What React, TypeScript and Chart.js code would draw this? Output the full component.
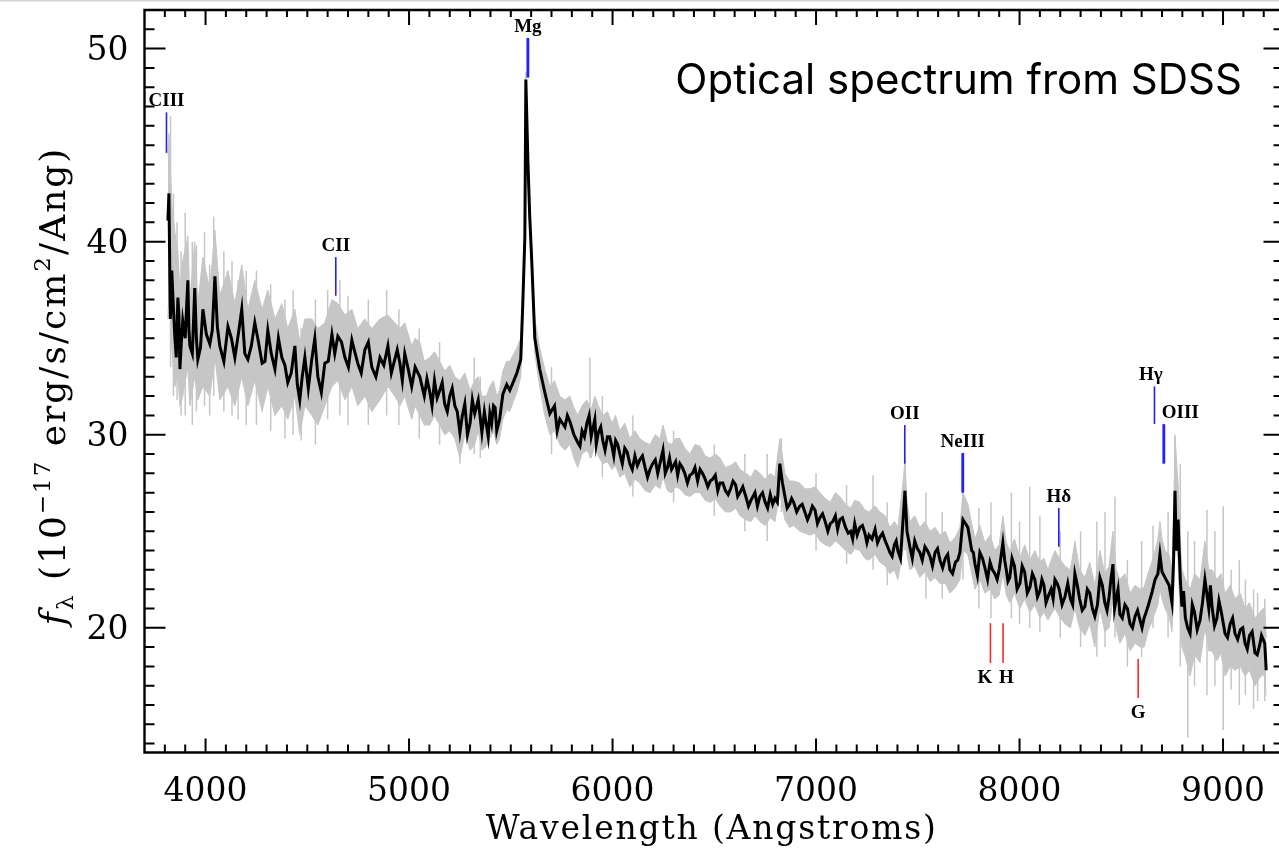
import React, { useEffect, useRef } from 'react';
import { Chart, registerables } from 'chart.js';

Chart.register(...registerables);

// ---------- Data ----------
// Main samples of the spectrum (wavelength in Angstroms) with the gray envelope
const wavelength = [
  3815, 3820, 3834, 3849, 3864, 3874, 3888, 3913, 3923, 3947, 3962, 3987, 4021, 4046, 4070, 4110,
  4144, 4178, 4208, 4242, 4278, 4306, 4341, 4375, 4404, 4439, 4463, 4488, 4522, 4552, 4586, 4621,
  4650, 4685, 4719, 4748, 4783, 4817, 4857, 4896, 4930, 4955, 4979, 5013, 5030, 5053, 5075, 5102,
  5125, 5151, 5175, 5200, 5225, 5250, 5274, 5300, 5323, 5340, 5358, 5380, 5397, 5415, 5431, 5445,
  5461, 5480, 5495, 5515, 5530, 5549, 5559, 5569, 5574, 5584, 5593, 5603, 5618, 5642, 5667, 5692,
  5715, 5741, 5766, 5790, 5810, 5829, 5850, 5874, 5895, 5913, 5930, 5952, 5975, 5997, 6015, 6036,
  6060, 6085, 6110, 6134, 6160, 6184, 6210, 6233, 6248, 6270, 6290, 6310, 6331, 6355, 6380, 6405,
  6430, 6455, 6480, 6505, 6528, 6555, 6580, 6605, 6626, 6655, 6680, 6700, 6724, 6750, 6775, 6798,
  6822, 6847, 6870, 6890, 6920, 6945, 6970, 6995, 7019, 7045, 7070, 7095, 7117, 7145, 7170, 7190,
  7215, 7240, 7260, 7290, 7314, 7340, 7363, 7385, 7402, 7427, 7437, 7447, 7461, 7485, 7510, 7535,
  7560, 7585, 7609, 7635, 7658, 7685, 7707, 7722, 7746, 7765, 7781, 7805, 7830, 7855, 7879, 7900,
  7918, 7935, 7952, 7975, 8002, 8025, 8051, 8075, 8100, 8120, 8140, 8155, 8174, 8195, 8223, 8250,
  8272, 8295, 8321, 8345, 8370, 8395, 8419, 8440, 8459, 8475, 8493, 8518, 8543, 8568, 8592, 8612,
  8631, 8650, 8666, 8680, 8690, 8700, 8715, 8735, 8749, 8757, 8764, 8779, 8790, 8798, 8815, 8838,
  8860, 8887, 8911, 8930, 8946, 8970, 8990, 9010, 9035, 9059, 9085, 9108, 9130, 9157, 9180, 9197,
  9205, 9212,
];

const flux = [
  41.1, 42.5, 38.5, 35.1, 37.1, 33.4, 35.9, 38.0, 34.6, 37.6, 33.9, 36.5, 34.7, 38.2, 34.6, 35.6,
  34.0, 36.5, 33.9, 35.8, 33.7, 35.4, 33.4, 34.0, 32.7, 34.6, 31.8, 34.0, 33.9, 33.0, 33.7, 35.2,
  35.1, 34.0, 34.9, 33.7, 34.4, 33.5, 34.0, 34.6, 33.9, 33.7, 34.2, 32.5, 33.5, 33.0, 32.0, 32.2,
  32.8, 32.3, 31.6, 32.0, 31.5, 30.1, 31.6, 30.6, 31.1, 31.8, 30.1, 30.5, 31.1, 31.5, 30.2, 30.8,
  32.1, 32.6, 32.3, 32.8, 33.2, 33.9, 36.8, 40.2, 48.4, 44.2, 41.3, 39.0, 35.0, 33.4, 32.2, 31.1,
  31.5, 30.8, 30.4, 30.7, 30.0, 29.6, 30.2, 30.6, 29.9, 30.8, 30.1, 29.7, 29.9, 29.4, 29.7, 29.0,
  29.3, 28.5, 28.9, 28.7, 28.3, 28.2, 28.7, 28.5, 29.2, 28.3, 28.2, 28.6, 28.5, 28.0, 27.9, 28.3,
  28.2, 27.7, 27.6, 27.9, 27.5, 27.1, 27.2, 27.4, 27.0, 26.8, 26.6, 27.0, 26.8, 26.5, 26.9, 26.7,
  28.5, 26.8, 26.4, 26.5, 26.3, 26.0, 25.9, 26.1, 25.7, 25.5, 25.4, 25.8, 25.6, 25.2, 25.0, 25.4,
  25.2, 24.9, 24.8, 25.1, 24.7, 24.5, 23.9, 24.3, 24.0, 25.5, 27.1, 25.0, 24.2, 24.5, 23.9, 24.2,
  23.7, 23.9, 23.5, 23.6, 23.0, 23.4, 23.9, 25.6, 25.2, 24.0, 23.3, 23.9, 23.1, 23.4, 22.8, 23.0,
  24.4, 23.0, 22.6, 23.2, 22.3, 22.9, 22.1, 22.5, 21.9, 22.2, 21.6, 22.0, 22.5, 22.0, 21.6, 21.5,
  22.8, 21.5, 21.1, 21.8, 20.6, 22.6, 21.3, 21.6, 23.3, 21.5, 20.7, 21.2, 20.2, 20.6, 20.4, 20.5,
  21.1, 21.8, 22.5, 22.8, 23.8, 22.9, 22.6, 22.2, 21.3, 23.5, 27.1, 25.6, 22.5, 21.1, 20.5, 19.7,
  20.8, 20.4, 22.5, 21.0, 21.1, 20.5, 20.9, 19.7, 20.2, 19.7, 19.9, 19.2, 19.6, 18.7, 19.1, 19.4,
  19.2, 17.8,
];

const fluxLow = [
  36.0, 37.5, 34.5, 32.5, 33.0, 31.5, 32.0, 33.5, 31.5, 33.0, 31.8, 32.5, 32.0, 34.0, 31.8, 32.5,
  31.5, 33.0, 31.5, 32.8, 31.2, 32.5, 31.0, 31.5, 30.8, 32.0, 30.0, 31.5, 31.0, 30.5, 31.5, 32.5,
  32.8, 31.8, 32.5, 31.5, 32.0, 31.2, 31.8, 32.5, 32.0, 31.5, 32.0, 30.8, 31.5, 31.0, 30.5, 30.5,
  31.0, 30.5, 30.0, 30.2, 29.8, 28.8, 30.0, 29.2, 29.5, 30.2, 29.2, 29.4, 29.8, 30.2, 29.5, 29.8,
  30.8, 31.3, 31.2, 31.8, 32.2, 33.0, 36.0, 39.5, 47.0, 43.5, 40.6, 38.3, 34.2, 32.5, 31.0, 30.0,
  30.2, 29.5, 29.2, 29.5, 28.8, 28.3, 29.0, 29.2, 28.8, 29.5, 28.9, 28.5, 28.6, 28.2, 28.4, 27.8,
  28.0, 27.3, 27.7, 27.5, 27.1, 27.0, 27.4, 27.2, 27.8, 27.1, 27.0, 27.3, 27.2, 26.9, 26.8, 27.0,
  27.0, 26.6, 26.5, 26.7, 26.3, 26.0, 26.0, 26.2, 25.8, 25.6, 25.5, 25.8, 25.5, 25.3, 25.7, 25.5,
  27.0, 25.6, 25.2, 25.3, 25.0, 24.9, 24.8, 24.9, 24.5, 24.3, 24.2, 24.5, 24.3, 24.0, 23.8, 24.1,
  24.0, 23.6, 23.5, 23.8, 23.4, 23.2, 22.8, 23.0, 22.5, 24.0, 25.5, 23.8, 23.0, 23.2, 22.6, 22.9,
  22.4, 22.6, 22.3, 22.3, 21.8, 22.1, 22.5, 24.0, 23.8, 22.8, 22.0, 22.5, 21.8, 22.0, 21.5, 21.7,
  22.8, 21.7, 21.3, 21.8, 21.0, 21.5, 20.8, 21.2, 20.5, 20.8, 20.4, 20.7, 21.0, 20.6, 20.2, 20.0,
  21.0, 20.0, 19.6, 20.2, 19.0, 21.0, 19.8, 20.0, 21.5, 20.0, 19.2, 19.7, 18.8, 19.2, 19.0, 19.0,
  19.8, 20.3, 20.8, 21.2, 22.0, 21.5, 21.0, 20.6, 19.8, 21.5, 25.0, 23.5, 20.5, 19.0, 18.5, 17.5,
  18.6, 18.2, 20.0, 18.8, 18.8, 18.3, 18.7, 17.5, 18.0, 17.8, 18.0, 17.5, 17.8, 17.0, 17.4, 17.6,
  17.4, 16.5,
];

const fluxHigh = [
  44.5, 45.6, 42.0, 40.5, 39.5, 37.5, 39.0, 40.3, 37.0, 40.0, 36.8, 39.2, 37.5, 40.6, 37.2, 38.5,
  36.8, 38.8, 36.5, 38.0, 36.5, 37.5, 36.0, 36.8, 35.5, 36.5, 34.8, 36.0, 36.0, 35.5, 35.8, 37.0,
  36.8, 36.2, 36.5, 35.5, 36.0, 35.5, 36.0, 36.2, 35.8, 35.5, 35.8, 34.6, 35.0, 34.8, 33.8, 34.0,
  34.3, 33.8, 33.3, 33.6, 33.0, 32.8, 33.2, 32.3, 32.8, 33.0, 32.0, 32.0, 32.5, 32.8, 32.0, 32.3,
  33.3, 33.8, 33.8, 34.2, 34.5, 35.0, 37.8, 41.0, 48.8, 45.0, 42.0, 39.7, 36.0, 34.5, 33.4, 32.5,
  32.8, 32.0, 31.8, 32.0, 31.4, 31.0, 31.5, 31.8, 31.3, 32.0, 31.5, 31.0, 31.2, 30.6, 31.0, 30.2,
  30.6, 29.8, 30.2, 29.8, 29.6, 29.5, 30.0, 29.8, 30.5, 29.6, 29.5, 29.8, 29.8, 29.3, 29.0, 29.5,
  29.4, 28.9, 28.8, 29.0, 28.8, 28.3, 28.4, 28.6, 28.2, 28.0, 27.8, 28.2, 28.0, 27.7, 28.0, 27.8,
  29.8, 28.0, 27.6, 27.6, 27.5, 27.2, 27.2, 27.3, 27.0, 26.7, 26.5, 27.0, 26.8, 26.4, 26.2, 26.6,
  26.5, 26.1, 26.0, 26.3, 26.0, 25.8, 25.2, 25.5, 25.2, 27.5, 28.6, 26.5, 25.5, 25.8, 25.2, 25.5,
  25.0, 25.2, 24.8, 25.0, 24.4, 24.7, 25.2, 27.0, 26.4, 25.4, 24.6, 25.3, 24.4, 24.8, 24.0, 24.3,
  25.8, 24.4, 24.0, 24.6, 23.6, 24.3, 23.5, 24.0, 23.4, 23.6, 23.0, 23.5, 24.0, 23.6, 23.2, 23.0,
  24.5, 23.0, 22.6, 23.4, 22.2, 24.0, 22.8, 23.2, 25.0, 23.0, 22.5, 22.8, 21.8, 22.2, 22.0, 22.1,
  22.8, 23.4, 24.0, 24.6, 25.5, 24.6, 24.0, 23.8, 23.0, 25.5, 29.9, 27.5, 24.5, 23.0, 22.5, 22.0,
  22.8, 22.5, 24.5, 23.0, 23.0, 22.5, 22.8, 21.8, 22.2, 21.5, 21.8, 21.0, 21.3, 20.5, 20.8, 21.0,
  21.0, 19.5,
];

// Extra wiggles of the smoothed (black) spectrum between the main samples
const detailWave = [
  3827, 3841, 3856, 3869, 3881, 3900, 3918, 3935, 3955, 3975, 4004, 4033, 4058, 4090, 4127, 4161,
  4193, 4225, 4260, 4292, 4323, 4358, 4390, 4421, 4451, 4475, 4505, 4537, 4569, 4603, 4635, 4668,
  4702, 4733, 4765, 4800, 4837, 4876, 4913, 4942, 4967, 4996, 5088, 5113, 5138, 5163, 5188, 5212,
  5237, 5262, 5287, 5311, 5370, 5389, 5406, 5423,
  5728, 5778, 5840, 5862, 5885, 5920, 5942, 5963, 5986, 6006, 6025, 6048, 6072, 6097, 6122, 6147,
  6172, 6197, 6222, 6259, 6280, 6320, 6343, 6368, 6393, 6418, 6442, 6468, 6492, 6517, 6542, 6568,
  6592, 6615, 6640, 6668, 6690, 6712, 6737, 6762, 6787, 6810, 6835, 6858, 6880, 6905, 6932, 6958,
  6982, 7007, 7032, 7058, 7082, 7106, 7130, 7158, 7180, 7202, 7228, 7250, 7275, 7302, 7327, 7352,
  7374, 7394, 7415,
  7473, 7498, 7522, 7547, 7572, 7597, 7622, 7647, 7671, 7696, 7773, 7793, 7818, 7843, 7867, 7890,
  7927, 7943, 7963, 7988, 8013, 8038, 8063, 8088, 8110, 8130, 8165, 8185, 8209, 8237, 8261, 8284,
  8308, 8333, 8358, 8383, 8407, 8430, 8449, 8467, 8484, 8505, 8530, 8555, 8580, 8602, 8622, 8770,
  8806, 8826, 8849, 8873, 8899, 8920, 8938, 8958, 8980, 9000, 9022, 9047, 9072, 9097, 9119, 9143,
  9168, 9189,
];
const detailFlux = [
  36.0, 36.8, 34.0, 36.2, 34.8, 35.0, 35.5, 34.2, 35.0, 34.5, 35.2, 35.4, 35.6, 33.8, 35.0, 35.2,
  34.2, 34.6, 34.8, 33.8, 34.2, 35.0, 33.6, 33.2, 32.6, 33.0, 32.4, 35.0, 32.2, 33.8, 34.2, 34.8,
  33.5, 34.3, 33.2, 34.8, 33.0, 33.6, 33.2, 34.4, 32.8, 33.4, 32.9, 31.5, 31.9, 32.7, 31.2, 32.4,
  31.2, 31.0, 30.0, 31.8, 31.2, 29.9, 30.6, 31.4,
  30.2, 31.0, 29.4, 29.9, 31.0, 29.5, 30.4, 29.2, 29.9, 28.9, 29.5, 28.5, 29.1, 28.2, 28.4, 28.9,
  27.8, 28.5, 28.0, 28.0, 28.8, 27.9, 28.3, 27.5, 28.0, 27.6, 28.0, 27.3, 27.7, 27.1, 27.5, 26.9,
  27.6, 26.8, 27.3, 26.3, 26.8, 26.3, 27.0, 26.2, 26.4, 26.5, 27.5, 26.2, 26.7, 26.0, 26.4, 25.6,
  26.3, 25.4, 25.9, 25.0, 25.5, 25.1, 25.7, 24.9, 24.6, 24.8, 25.3, 24.4, 24.6, 24.4, 24.9, 24.2,
  23.7, 24.5, 23.6,
  23.6, 24.1, 23.5, 24.0, 23.2, 24.1, 23.1, 23.8, 22.8, 23.5, 23.9, 22.7, 23.6, 22.5, 23.0, 22.5,
  23.5, 22.4, 23.6, 22.0, 23.2, 21.8, 22.8, 21.6, 22.5, 21.3, 21.5, 22.3, 21.2, 22.3, 21.2, 22.2,
  20.9, 22.0, 21.0, 21.2, 22.2, 20.9, 22.5, 21.0, 22.0, 20.5, 21.0, 20.0, 20.9, 20.0, 20.8, 24.0,
  21.9, 20.0, 21.2, 19.9, 21.3, 21.8, 22.2, 20.1, 21.4, 20.3, 19.5, 20.5, 19.4, 20.0, 18.9, 19.8,
  18.6, 19.6,
];

// Isolated noise spikes of the gray (unsmoothed) spectrum
const spikeX = [
  3828, 3842, 3860, 3880, 3900, 3935, 3955, 3995, 4020, 4040, 4090, 4130, 4160, 4200, 4250, 4320,
  4390, 4430, 4470, 4540, 4600, 4660, 4700, 4800, 4890, 4950, 5050, 5150, 5250, 5320, 5350, 5700,
  5889, 5950, 6100, 6300, 6500, 6650, 6760, 6830, 7000, 7150, 7280, 7350, 7437, 7540, 7620, 7722,
  7800, 7860, 7960, 8000, 8050, 8100, 8200, 8300, 8380, 8420, 8469, 8530, 8600, 8656, 8730, 8764,
  8790, 8827, 8860, 8921, 8960, 9001, 9040, 9080, 9110, 9150, 9170, 9205,
];
const spikeLow = [
  33.5, 32.0, 31.8, 31.0, 31.0, 30.5, 31.2, 31.5, 31.0, 32.0, 31.2, 31.0, 30.8, 30.5, 30.5, 30.2,
  29.8, 30.0, 29.7, 29.5, 30.8, 31.0, 30.5, 30.5, 31.0, 30.5, 29.8, 29.5, 28.5, 29.0, 28.8, 29.0,
  28.8, 27.8, 26.8, 26.5, 25.8, 25.0, 24.5, 26.0, 24.0, 23.3, 23.0, 22.2, 24.0, 21.5, 21.5, 22.5,
  21.0, 20.5, 20.5, 20.2, 20.0, 19.8, 19.5, 19.0, 18.5, 19.0, 19.5, 18.0, 18.5, 20.0, 19.5, 24.0,
  18.0, 14.3, 17.0, 16.5, 17.0, 14.7, 16.8, 16.0, 16.5, 15.8, 16.2, 16.2,
];
const spikeHigh = [
  46.5, 42.5, 41.0, 39.5, 41.5, 40.0, 39.8, 40.5, 38.8, 41.3, 39.5, 39.0, 38.0, 38.5, 38.5, 37.8,
  37.0, 37.5, 35.5, 37.0, 37.5, 38.0, 37.2, 37.0, 37.5, 36.5, 35.5, 34.8, 32.5, 34.0, 33.0, 33.5,
  34.0, 32.0, 31.0, 30.2, 29.5, 29.0, 29.0, 29.8, 28.0, 27.4, 27.9, 26.5, 28.8, 27.0, 26.0, 28.5,
  26.2, 26.5, 27.0, 25.5, 27.3, 25.8, 25.0, 25.0, 25.5, 26.0, 26.8, 23.5, 24.5, 25.3, 26.0, 30.0,
  28.5, 25.0, 24.5, 26.1, 25.0, 26.3, 23.0, 23.5, 22.5, 22.0, 21.8, 21.5,
];

// Spectral line markers
const lineNames = ['CIII', 'CII', 'Mg', 'OII', 'NeIII', 'Hδ', 'Hγ', 'OIII', 'K', 'H', 'G'];
const lineWave = [3808, 4640, 5584, 7436, 7721, 8193, 8663, 8709, 7857, 7919, 8583];
const lineLabelWave = [3808, 4640, 5584, 7436, 7721, 8193, 8645, 8790, 7830, 7935, 8583];
const lineTop = [46.7, 39.2, 50.55, 30.5, 29.05, 26.2, 32.5, 30.55, 20.24, 20.24, 18.38];
const lineBottom = [44.6, 37.2, 48.5, 28.5, 27.0, 24.2, 30.55, 28.5, 18.17, 18.17, 16.36];
const lineType = ['emission', 'emission', 'emission', 'emission', 'emission', 'emission', 'emission',
  'emission', 'absorption', 'absorption', 'absorption'];

const xTickValues = [4000, 5000, 6000, 7000, 8000, 9000];
const yTickValues = [20, 30, 40, 50];

const xTitle = 'Wavelength (Angstroms)';
const annotation = 'Optical spectrum from SDSS';

const X_MIN = 3700;
const X_MAX = 9275;
const Y_MIN = 13.54;
const Y_MAX = 52;

// ---------- Styling ----------
const SERIF = "'DejaVu Serif', serif";
const GRAY = '#c6c6c6';
const BLUE = '#1f1fff';
const RED = '#ff2a2a';
const thickMarkers = new Set(['Mg', 'NeIII', 'OIII']);

const decorPlugin = {
  id: 'spectrumDecor',
  beforeDraw(chart: any) {
    const { ctx, width, height } = chart;
    ctx.save();
    ctx.fillStyle = '#ffffff';
    ctx.fillRect(0, 0, width, height);
    ctx.fillStyle = '#d2d2d2';
    ctx.fillRect(0, 0, width, 1.5);
    ctx.restore();
  },
  afterDraw(chart: any) {
    const { ctx, chartArea: a } = chart;
    const xs = chart.scales.x;
    const ys = chart.scales.y;
    const rightEdge = a.right + 1.5;
    ctx.save();

    // frame
    ctx.strokeStyle = '#000';
    ctx.lineWidth = 2.4;
    ctx.beginPath();
    ctx.moveTo(rightEdge, a.top);
    ctx.lineTo(a.left, a.top);
    ctx.lineTo(a.left, a.bottom);
    ctx.lineTo(rightEdge, a.bottom);
    ctx.lineTo(rightEdge, a.top);
    ctx.stroke();

    // inward ticks
    ctx.lineWidth = 2;
    ctx.beginPath();
    for (let v = Math.ceil(ys.min); v <= Math.floor(ys.max); v++) {
      const py = ys.getPixelForValue(v);
      const major = v % 10 === 0;
      ctx.moveTo(a.left, py);
      ctx.lineTo(a.left + (major ? 21 : 10), py);
      ctx.moveTo(rightEdge, py);
      ctx.lineTo(rightEdge - (major ? 17 : 7), py);
    }
    for (let v = 3800; v <= xs.max; v += 100) {
      const px = xs.getPixelForValue(v);
      const major = v % 1000 === 0;
      ctx.moveTo(px, a.bottom);
      ctx.lineTo(px, a.bottom - (major ? 14 : 8));
      ctx.moveTo(px, a.top);
      ctx.lineTo(px, a.top + (major ? 15 : 7));
    }
    ctx.stroke();

    // spectral line markers
    for (let i = 0; i < lineNames.length; i++) {
      const px = xs.getPixelForValue(lineWave[i]);
      const pTop = ys.getPixelForValue(lineTop[i]);
      const pBot = ys.getPixelForValue(lineBottom[i]);
      const emission = lineType[i] === 'emission';
      ctx.strokeStyle = emission ? BLUE : RED;
      ctx.lineWidth = thickMarkers.has(lineNames[i]) ? 2.8 : 1.6;
      ctx.beginPath();
      ctx.moveTo(px, pTop);
      ctx.lineTo(px, pBot);
      ctx.stroke();
      ctx.fillStyle = '#000';
      ctx.font = "bold 19px 'Liberation Serif', serif";
      ctx.textAlign = 'center';
      ctx.textBaseline = 'alphabetic';
      const lx = xs.getPixelForValue(lineLabelWave[i]);
      if (emission) ctx.fillText(lineNames[i], lx, pTop - 6);
      else ctx.fillText(lineNames[i], lx, pBot + 20);
    }

    // annotation
    ctx.fillStyle = '#000';
    ctx.font = "42px Inter, 'Noto Sans', sans-serif";
    ctx.textAlign = 'right';
    ctx.textBaseline = 'alphabetic';
    ctx.fillText(annotation, 1242, 94);

    // x title
    ctx.font = `33px ${SERIF}`;
    ctx.textAlign = 'center';
    (ctx as any).letterSpacing = '1.8px';
    ctx.fillText(xTitle, (a.left + a.right) / 2, 839);

    // y title (rotated, with sub/superscripts)
    const main = `36px ${SERIF}`;
    const ital = `italic 36px ${SERIF}`;
    const small = `23px ${SERIF}`;
    const pieces: [string, string, number][] = [
      ['f', ital, 0],
      ['λ', small, 8],
      [' (10', main, 0],
      ['−17', small, -15],
      [' erg/s/cm', main, 0],
      ['2', small, -15],
      ['/Ang)', main, 0],
    ];
    (ctx as any).letterSpacing = '2px';
    let total = 0;
    const widths = pieces.map(([t, f]) => {
      ctx.font = f;
      const w = ctx.measureText(t).width;
      total += w;
      return w;
    });
    ctx.translate(65, 386);
    ctx.rotate(-Math.PI / 2);
    ctx.textAlign = 'left';
    let cx = -total / 2;
    pieces.forEach(([t, f, dy], i) => {
      ctx.font = f;
      ctx.fillText(t, cx, dy);
      cx += widths[i];
    });
    ctx.restore();
  },
};

const zeroPadding = (scale: any) => {
  scale.paddingTop = 0;
  scale.paddingBottom = 0;
  scale.paddingLeft = 0;
  scale.paddingRight = 0;
};

export default function App() {
  const canvasRef = useRef<HTMLCanvasElement>(null);

  useEffect(() => {
    document.body.style.margin = '0';
    const canvas = canvasRef.current;
    if (!canvas) return;

    const blackLine = wavelength
      .map((x, i) => ({ x, y: flux[i] }))
      .concat(detailWave.map((x, i) => ({ x, y: detailFlux[i] })))
      .sort((p, q) => p.x - q.x);
    const lowLine = wavelength.map((x, i) => ({ x, y: fluxLow[i] }));
    const highLine = wavelength.map((x, i) => ({ x, y: fluxHigh[i] }));
    const spikes: { x: number; y: number | null }[] = [];
    spikeX.forEach((x, i) => {
      spikes.push({ x, y: spikeLow[i] }, { x, y: spikeHigh[i] }, { x, y: null });
    });

    const chart = new Chart(canvas, {
      type: 'line',
      data: {
        datasets: [
          {
            label: 'Smoothed flux',
            data: blackLine,
            borderColor: '#000',
            borderWidth: 3,
            pointRadius: 0,
            fill: false,
            tension: 0,
          },
          {
            label: 'Noise spikes',
            data: spikes as any,
            borderColor: GRAY,
            borderWidth: 1.5,
            pointRadius: 0,
            fill: false,
            spanGaps: false,
          },
          {
            label: 'Flux low',
            data: lowLine,
            borderColor: GRAY,
            borderWidth: 1,
            pointRadius: 0,
            fill: false,
          },
          {
            label: 'Flux high',
            data: highLine,
            borderColor: GRAY,
            backgroundColor: GRAY,
            borderWidth: 1,
            pointRadius: 0,
            fill: '-1',
          },
        ],
      },
      options: {
        responsive: false,
        animation: false,
        devicePixelRatio: 1,
        events: [],
        layout: { autoPadding: false, padding: { left: 0, right: 0, top: 10, bottom: 0 } },
        plugins: {
          legend: { display: false },
          tooltip: { enabled: false },
          title: { display: false },
        },
        scales: {
          x: {
            type: 'linear',
            min: X_MIN,
            max: X_MAX,
            offset: false,
            grid: { display: false, drawTicks: false },
            border: { display: false },
            afterBuildTicks: (scale: any) => {
              scale.ticks = xTickValues.map((v) => ({ value: v }));
            },
            afterFit: (scale: any) => {
              scale.height = 103.5;
              zeroPadding(scale);
            },
            ticks: {
              font: { family: SERIF, size: 33 },
              color: '#000',
              padding: 20,
              maxRotation: 0,
              autoSkip: false,
              callback: (v: any) => String(v),
            },
          },
          y: {
            type: 'linear',
            min: Y_MIN,
            max: Y_MAX,
            grid: { display: false, drawTicks: false },
            border: { display: false },
            afterBuildTicks: (scale: any) => {
              scale.ticks = yTickValues.map((v) => ({ value: v }));
            },
            afterFit: (scale: any) => {
              scale.width = 144.5;
              zeroPadding(scale);
            },
            ticks: {
              font: { family: SERIF, size: 33 },
              color: '#000',
              padding: 16,
              labelOffset: 3,
              autoSkip: false,
              callback: (v: any) => String(v),
            },
          },
        },
      },
      plugins: [decorPlugin],
    } as any);

    return () => chart.destroy();
  }, []);

  return (
    <div style={{ width: 1279, height: 856, background: '#fff' }}>
      <canvas ref={canvasRef} width={1279} height={856} style={{ display: 'block', width: 1279, height: 856 }} />
    </div>
  );
}
